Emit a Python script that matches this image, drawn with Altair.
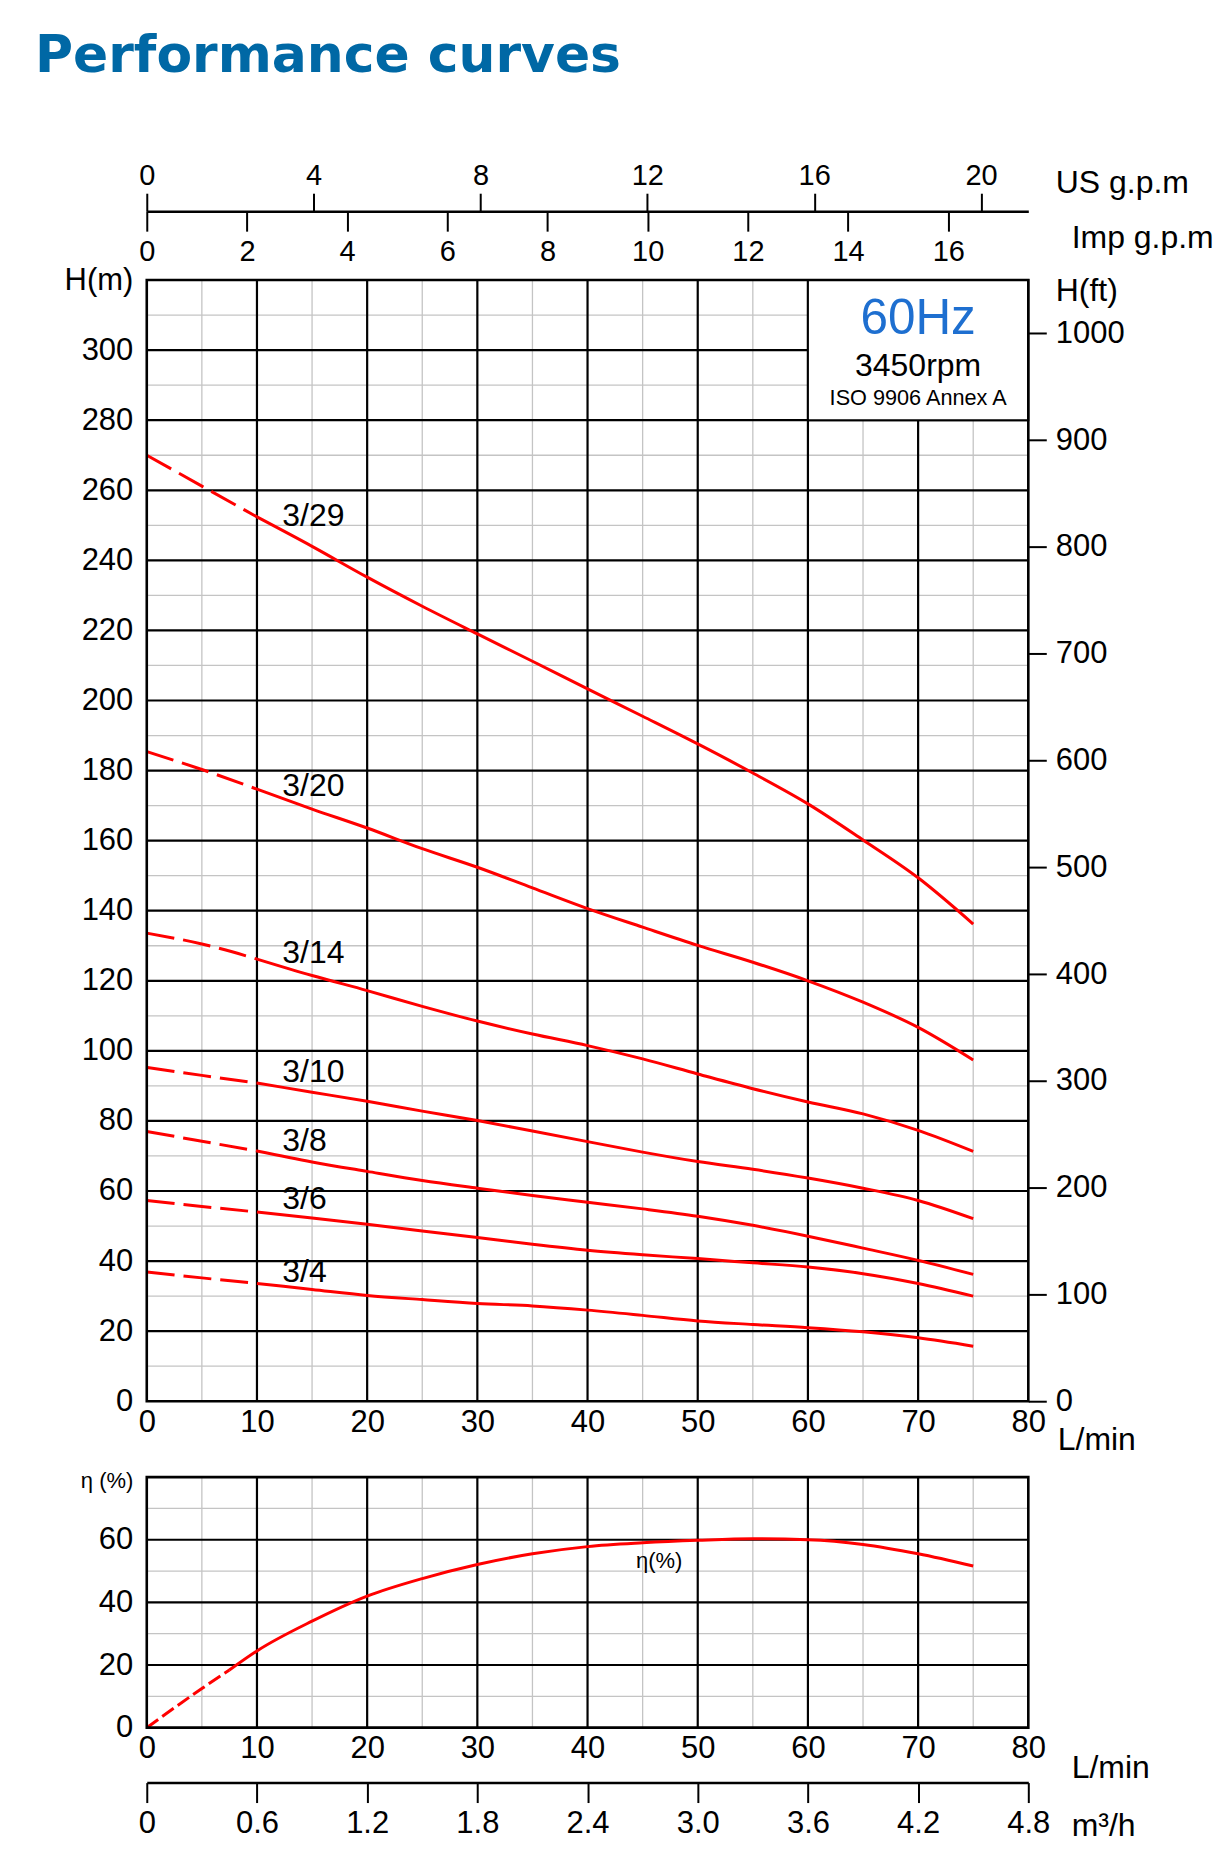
import altair as alt
import pandas as pd
import numpy as np

FONT = "Liberation Sans"
RED = "#ff0000"

# ---------------- data ----------------
flow = [0, 5, 10, 15, 20, 25, 30, 35, 40, 45, 50, 55, 60, 65, 70, 75]
head_3_29 = [270, 261.2, 252.4, 244, 235.2, 226.9, 219, 211.2, 203.3, 195.5, 187.6, 179.3, 170.5, 160.2, 149.4, 136.2]
head_3_20 = [185.4, 180.3, 174.7, 169, 163.6, 157.7, 152.4, 146.5, 140.6, 135.3, 130.1, 125.3, 120, 113.9, 106.7, 97.4]
head_3_14 = [133.6, 130.5, 126.2, 121.5, 117.2, 112.7, 108.5, 104.8, 101.5, 97.7, 93.4, 89.2, 85.4, 82, 77.3, 71.3]
head_3_10 = [95.3, 93, 90.8, 88.2, 85.6, 82.8, 80.1, 77.1, 74.1, 71.1, 68.4, 66.2, 63.7, 60.8, 57.3, 52.1]
head_3_8 = [77, 74.2, 71.4, 68.3, 65.6, 63, 60.8, 58.7, 56.8, 54.9, 52.8, 50.2, 47.1, 43.7, 40.2, 36.2]
head_3_6 = [57.3, 55.6, 54, 52.3, 50.5, 48.6, 46.7, 44.8, 43.1, 41.8, 40.7, 39.5, 38.3, 36.4, 33.6, 30.0]
head_3_4 = [36.9, 35.2, 33.6, 31.9, 30.2, 29, 27.9, 27.2, 26, 24.5, 22.9, 21.9, 21, 19.8, 18.1, 15.7]

models = ["3/29", "3/20", "3/14", "3/10", "3/8", "3/6", "3/4"]
heads = [head_3_29, head_3_20, head_3_14, head_3_10, head_3_8, head_3_6, head_3_4]
label_flow = [12.3] * 7
label_head = [252.6, 175.7, 127.9, 93.9, 74.4, 57.8, 36.9]
dash_end = 10

eta_flow = [0, 5, 7.5, 10, 15, 20, 25, 30, 35, 40, 45, 50, 55, 60, 65, 70, 75]
eta_vals = [0, 12.5, 18.4, 24.5, 34, 42, 47.6, 52.1, 55.5, 57.8, 59, 59.8, 60.3, 60, 58.5, 55.5, 51.6]
eta_dash_end = 7.5

x_ticks = list(range(0, 81, 10))
h_ticks = list(range(0, 301, 20))
ft_ticks = list(range(0, 1001, 100))
eta_ticks = [0, 20, 40, 60]
us_ticks = [0, 4, 8, 12, 16, 20]
imp_ticks = [0, 2, 4, 6, 8, 10, 12, 14, 16]
m3h_ticks = [0, 0.6, 1.2, 1.8, 2.4, 3.0, 3.6, 4.2, 4.8]

box_lines = ["60Hz", "3450rpm", "ISO 9906 Annex A"]
box_y = [308.9, 295.4, 286.4]
box_size = [49.5, 32, 21.7]
box_color = ["#1e6fd0", "black", "black"]

# ---------------- geometry (pixels) ----------------
W = 883
H_MAIN = 1123          # main plot height
EFF_TOP = 1199         # top of efficiency plot
H_ALL = 1450           # bottom of efficiency plot
TOP_GAP = 69           # gpm axes above main plot

rows = []
for m, hs in zip(models, heads):
    for f, h in zip(flow, hs):
        rows.append({"model": m, "x": f, "y": h})
curves = pd.DataFrame(rows)

xs = alt.Scale(domain=[0, 80], nice=False, zero=False)
ys = alt.Scale(domain=[0, 320], range=[H_MAIN, 0], nice=False, zero=False)
ys_eta = alt.Scale(domain=[0, 80], range=[H_ALL, EFF_TOP], nice=False, zero=False)


def x_axis(offset, title_x, title_y):
    return alt.Axis(values=x_ticks, title="L/min", orient="bottom", offset=offset, ticks=False,
                    tickSize=0, domain=False, grid=False, labelPadding=6, labelFlush=False,
                    titleAngle=0, titleAlign="left", titleBaseline="middle", titleX=title_x,
                    titleY=title_y, titleFontSize=32)


def y_axis(vals, title, title_y, title_size):
    return alt.Axis(values=vals, title=title, orient="left", ticks=False, tickSize=0,
                    domain=False, grid=False, labelPadding=14, titleAngle=0, titleAlign="right",
                    titleBaseline="middle", titleX=-14, titleY=title_y, titleFontSize=title_size)


def grid_layers(ymax, yscale):
    X = alt.X("x:Q", scale=xs, axis=None)
    Y = alt.Y("y:Q", scale=yscale, axis=None)
    vminor = pd.DataFrame({"x": list(range(5, 80, 10))}).assign(y=0, y2=ymax)
    vmajor = pd.DataFrame({"x": list(range(10, 80, 10))}).assign(y=0, y2=ymax)
    hminor = pd.DataFrame({"y": list(range(10, ymax, 20))}).assign(x=0, x2=80)
    hmajor = pd.DataFrame({"y": list(range(20, ymax, 20))}).assign(x=0, x2=80)
    return [
        alt.Chart(vminor).mark_rule(color="#c4c4c4", strokeWidth=1.3).encode(x=X, y=Y, y2="y2:Q"),
        alt.Chart(hminor).mark_rule(color="#c4c4c4", strokeWidth=1.3).encode(x=X, x2="x2:Q", y=Y),
        alt.Chart(vmajor).mark_rule(color="black", strokeWidth=2.2).encode(x=X, y=Y, y2="y2:Q"),
        alt.Chart(hmajor).mark_rule(color="black", strokeWidth=2.2).encode(x=X, x2="x2:Q", y=Y),
    ]


def border(ymax, yscale):
    df = pd.DataFrame({"x": [0], "x2": [80], "y": [0], "y2": [ymax]})
    return alt.Chart(df).mark_rect(fillOpacity=0, stroke="black", strokeWidth=2.6).encode(
        x=alt.X("x:Q", scale=xs, axis=None), x2="x2:Q",
        y=alt.Y("y:Q", scale=yscale, axis=None), y2="y2:Q")


# ---------------- main chart layers ----------------
xm0 = alt.X("x:Q", scale=xs, axis=None)
ym0 = alt.Y("y:Q", scale=ys, axis=None)
xm = alt.X("x:Q", scale=xs, axis=x_axis(-(H_ALL - H_MAIN), 912, 38))
ym = alt.Y("y:Q", scale=ys, axis=y_axis(h_ticks, "H(m)", 0, 31))

box = alt.Chart(pd.DataFrame({"x": [60], "x2": [80], "y": [280], "y2": [320]})).mark_rect(
    fill="white", stroke="black", strokeWidth=2).encode(x=xm0, x2="x2:Q", y=ym0, y2="y2:Q")

box_df = pd.DataFrame({"x": [70] * 3, "y": box_y, "t": box_lines, "s": box_size, "c": box_color})
box_text = alt.Chart(box_df).mark_text(font=FONT, baseline="middle", align="center").encode(
    x=xm0, y=ym0, text="t:N",
    size=alt.Size("s:Q", scale=None, legend=None),
    color=alt.Color("c:N", scale=None, legend=None))

dashed = alt.Chart(curves[curves["x"] <= dash_end]).mark_line(
    color=RED, strokeWidth=3, strokeDash=[28, 9], interpolate="monotone").encode(
    x=xm0, y=ym0, detail="model:N")
solid = alt.Chart(curves[curves["x"] >= dash_end]).mark_line(
    color=RED, strokeWidth=3, interpolate="monotone").encode(
    x=xm, y=ym, detail="model:N")

lab_df = pd.DataFrame({"x": label_flow, "y": label_head, "t": models})
labels = alt.Chart(lab_df).mark_text(font=FONT, fontSize=32, align="left", baseline="middle",
                                     color="black").encode(x=xm0, y=ym0, text="t:N")

ft_layer = alt.Chart(pd.DataFrame({"ft": ft_ticks})).mark_point(opacity=0).encode(
    x=alt.value(0),
    y=alt.Y("ft:Q", scale=alt.Scale(domain=[0, 320 / 0.3048], range=[H_MAIN, 0], nice=False,
                                    zero=False),
            axis=alt.Axis(orient="right", values=ft_ticks, format="d", title="H(ft)",
                          tickSize=18, tickWidth=2, domain=False, grid=False, labelPadding=9,
                          titleAngle=0, titleAlign="left", titleBaseline="middle",
                          titleX=27, titleY=10, titleFontSize=32)))

us_layer = alt.Chart(pd.DataFrame({"v": us_ticks})).mark_point(opacity=0).encode(
    y=alt.value(0),
    x=alt.X("v:Q", scale=alt.Scale(domain=[0, 80 / 3.785411784], nice=False, zero=False),
            axis=alt.Axis(orient="top", offset=TOP_GAP, values=us_ticks, title="US g.p.m",
                          domain=True, domainWidth=2.5, tickSize=18, tickWidth=2, grid=False,
                          labelPadding=3, labelFlush=False, labelFontSize=29, titleAngle=0,
                          titleAlign="left", titleBaseline="middle", titleX=910, titleY=-29,
                          titleFontSize=32)))
imp_layer = alt.Chart(pd.DataFrame({"w": imp_ticks})).mark_point(opacity=0).encode(
    y=alt.value(0),
    x=alt.X("w:Q", scale=alt.Scale(domain=[0, 80 / 4.54609], nice=False, zero=False),
            axis=alt.Axis(orient="bottom", offset=-(H_ALL + TOP_GAP), values=imp_ticks,
                          title="Imp g.p.m", domain=False, tickSize=20, tickWidth=2,
                          grid=False, labelPadding=6, labelFlush=False, labelFontSize=29,
                          titleAngle=0, titleAlign="left", titleBaseline="middle",
                          titleX=926, titleY=26, titleFontSize=32)))

# ---------------- efficiency chart layers ----------------
xe0 = alt.X("x:Q", scale=xs, axis=None)
ye0 = alt.Y("y:Q", scale=ys_eta, axis=None)
xe = alt.X("x:Q", scale=xs, axis=x_axis(0, 926, 40))
ye = alt.Y("y:Q", scale=ys_eta, axis=y_axis(eta_ticks, "η (%)", EFF_TOP + 3, 22))

eta_df = pd.DataFrame({"x": eta_flow, "y": eta_vals})
eta_dashed = alt.Chart(eta_df[eta_df["x"] <= eta_dash_end]).mark_line(
    color=RED, strokeWidth=3, strokeDash=[14, 5], interpolate="monotone").encode(x=xe0, y=ye0)
eta_solid = alt.Chart(eta_df[eta_df["x"] >= eta_dash_end]).mark_line(
    color=RED, strokeWidth=3, interpolate="monotone").encode(x=xe, y=ye)
eta_label = alt.Chart(pd.DataFrame({"x": [46.5], "y": [53.2], "t": ["η(%)"]})).mark_text(
    font=FONT, fontSize=22, align="center", baseline="middle", color="black").encode(
    x=xe0, y=ye0, text="t:N")

m3h_layer = alt.Chart(pd.DataFrame({"m": m3h_ticks})).mark_point(opacity=0).encode(
    y=alt.value(H_ALL),
    x=alt.X("m:Q", scale=alt.Scale(domain=[0, 4.8], nice=False, zero=False),
            axis=alt.Axis(orient="bottom", offset=55, values=m3h_ticks, title="m³/h",
                          labelExpr="datum.value == 0 ? '0' : format(datum.value, '.1f')",
                          domain=True, domainWidth=2.5, tickSize=20, tickWidth=2,
                          grid=False, labelPadding=6, labelFlush=False, titleAngle=0,
                          titleAlign="left", titleBaseline="middle", titleX=926, titleY=43,
                          titleFontSize=32)))

layers = (grid_layers(320, ys) + [box, box_text, dashed, solid, labels, border(320, ys),
                                  ft_layer, us_layer, imp_layer]
          + grid_layers(80, ys_eta) + [eta_dashed, eta_solid, eta_label, border(80, ys_eta),
                                       m3h_layer])

chart = alt.layer(*layers).resolve_scale(x="independent", y="independent").properties(
    width=W, height=H_ALL,
    title=alt.TitleParams("Performance curves", anchor="start", frame="group", font="DejaVu Sans",
                          fontSize=52, fontWeight="bold", color="#0068a5", offset=78, dx=-112),
    padding={"left": 27, "top": 21, "right": 0, "bottom": 0},
).configure_view(strokeWidth=0).configure_axis(
    labelFont=FONT, titleFont=FONT, labelColor="black", titleColor="black", labelFontSize=31,
    titleFontSize=31, titleFontWeight="normal", domainColor="black", tickColor="black",
).configure_text(font=FONT)

chart.save("out.html", embed_options={"renderer": "svg", "actions": False})
